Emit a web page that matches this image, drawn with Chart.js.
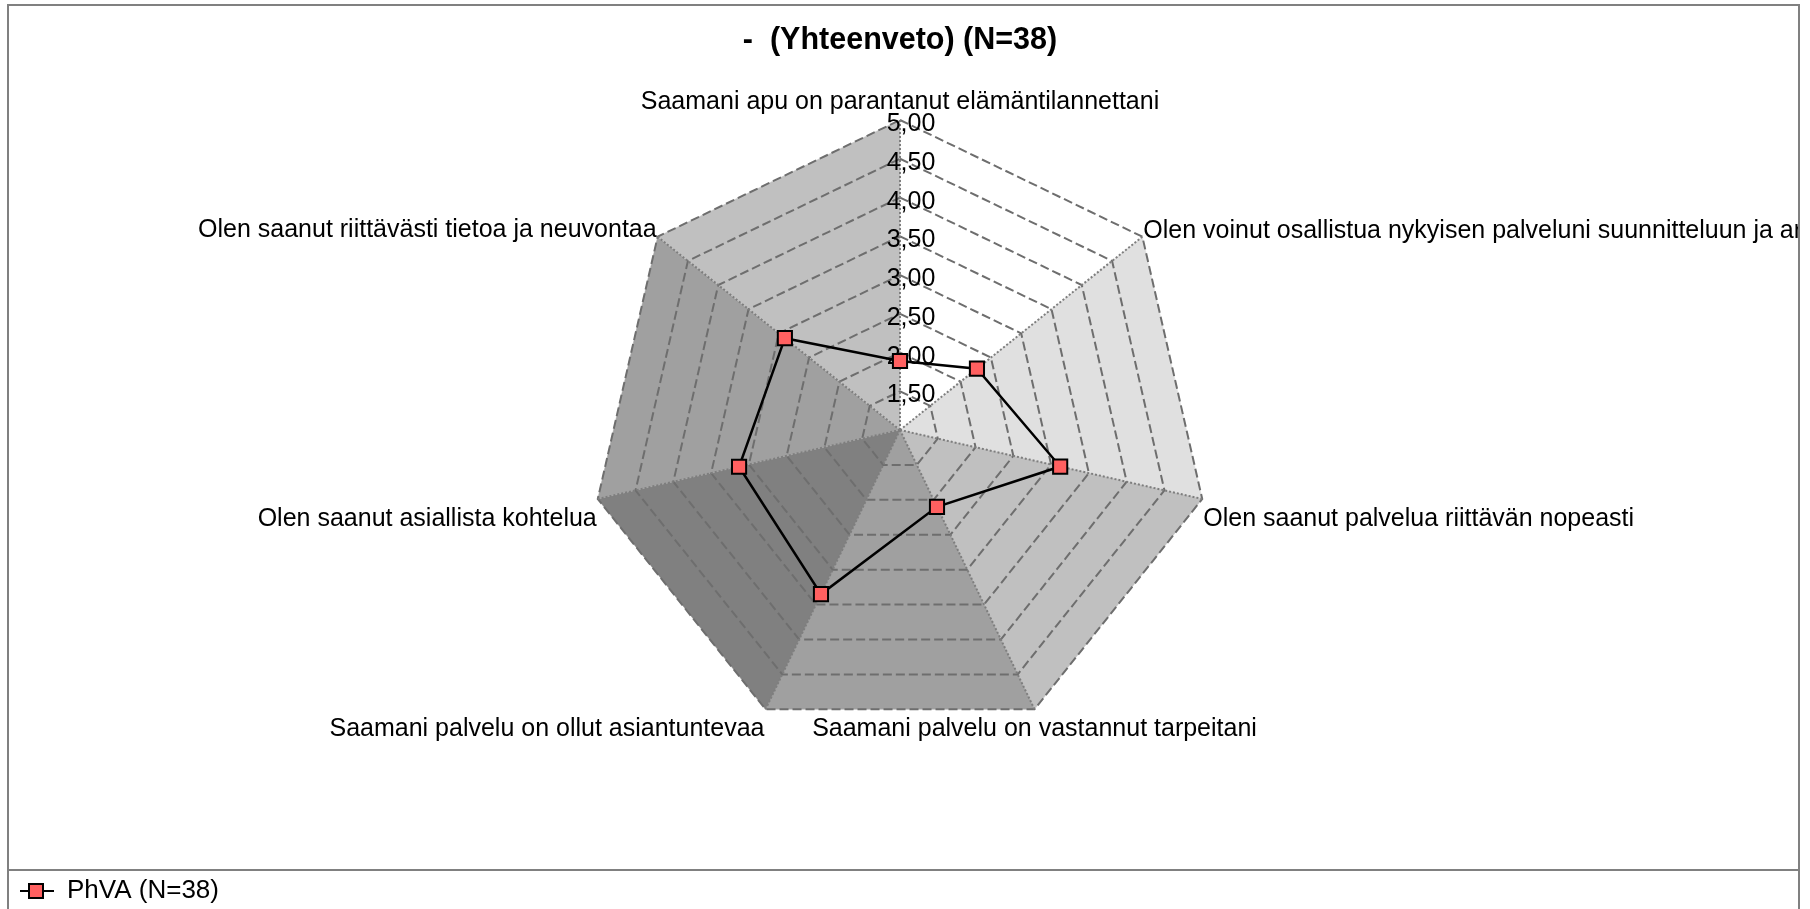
<!DOCTYPE html>
<html>
<head>
<meta charset="utf-8">
<script src="https://cdn.jsdelivr.net/npm/chart.js@4/dist/chart.umd.min.js"></script>
<style>
  html, body { margin: 0; padding: 0; overflow: hidden; background: #fff; }
  #frame { position: absolute; left: 7px; top: 4px; width: 1793px; height: 1000px;
           border: 2px solid #808080; box-sizing: border-box; overflow: hidden; }
  #chart { position: absolute; left: -9px; top: -6px; }
  #legendRule { position: absolute; left: 0; right: 0; top: 863px; height: 2px; background: #808080; }
</style>
</head>
<body>
<div id="frame">
  <canvas id="chart" width="1810" height="909"></canvas>
  <div id="legendRule"></div>
</div>
<script>
const titleText = '-  (Yhteenveto) (N=38)';
const categories = [
    'Saamani apu on parantanut elämäntilannettani',
    'Olen voinut osallistua nykyisen palveluni suunnitteluun ja arviointiin',
    'Olen saanut palvelua riittävän nopeasti',
    'Saamani palvelu on vastannut tarpeitani',
    'Saamani palvelu on ollut asiantuntevaa',
    'Olen saanut asiallista kohtelua',
    'Olen saanut riittävästi tietoa ja neuvontaa'
];
const seriesName = 'PhVA (N=38)';
const seriesValues = [1.89, 2.27, 3.12, 2.10, 3.35, 3.13, 2.90];
const scaleMin = 1;
const scaleMax = 5;
const scaleStep = 0.5;

const fontFamily = '"Liberation Sans", Arial, sans-serif';
const pointFill = '#ff6060';
// grey wedges between neighbouring spokes (3D-look background)
const sectorShades = ['#ffffff', '#e0e0e0', '#c0c0c0', '#a0a0a0', '#808080', '#a0a0a0', '#c0c0c0'];

function fmt(v) {
    return v.toFixed(2).replace('.', ',');
}

function legendSwatch() {
    const c = document.createElement('canvas');
    c.width = 36;
    c.height = 18;
    const g = c.getContext('2d');
    g.strokeStyle = '#000';
    g.lineWidth = 2;
    g.beginPath();
    g.moveTo(2, 9);
    g.lineTo(36, 9);
    g.stroke();
    g.fillStyle = pointFill;
    g.fillRect(11, 2, 14, 14);
    g.strokeRect(11, 2, 14, 14);
    return c;
}

const sectorShading = {
    id: 'sectorShading',
    beforeDraw(chart) {
        const r = chart.scales.r;
        const ctx = chart.ctx;
        const n = chart.data.labels.length;
        ctx.save();
        for (let i = 0; i < n; i++) {
            const a = r.getPointPositionForValue(i, r.max);
            const b = r.getPointPositionForValue((i + 1) % n, r.max);
            ctx.beginPath();
            ctx.moveTo(r.xCenter, r.yCenter);
            ctx.lineTo(a.x, a.y);
            ctx.lineTo(b.x, b.y);
            ctx.closePath();
            ctx.fillStyle = sectorShades[i];
            ctx.strokeStyle = sectorShades[i];
            ctx.lineWidth = 0.5;
            ctx.fill();
            ctx.stroke();
        }
        ctx.restore();
    }
};

const axisText = {
    id: 'axisText',
    beforeDatasetsDraw(chart) {
        const r = chart.scales.r;
        const ctx = chart.ctx;
        ctx.save();
        ctx.fillStyle = '#000';
        ctx.font = '25px ' + fontFamily;

        // value labels along the first spoke
        ctx.textAlign = 'center';
        ctx.textBaseline = 'alphabetic';
        r.ticks.forEach((t, k) => {
            if (k === 0) return;
            const p = r.getPointPositionForValue(0, t.value);
            ctx.fillText(fmt(t.value), p.x + 11, p.y + 11);
        });

        // category labels at the spoke ends
        chart.data.labels.forEach((label, i) => {
            const p = r.getPointPositionForValue(i, r.max);
            const ang = r.getIndexAngle(i);
            const s = Math.sin(ang), c = Math.cos(ang);
            let align, dx = 0, dy;
            if (c > 0.95) { align = 'center'; dy = -11; }
            else if (s > 0 && c < -0.85) { align = 'center'; dy = 27; }
            else if (s > 0) { align = 'left'; dx = 1; dy = c > 0 ? 1 : 27; }
            else { align = 'right'; dx = -1; dy = c > 0 ? 0 : 27; }
            ctx.textAlign = align;
            ctx.fillText(label, p.x + dx, p.y + dy);
        });
        ctx.restore();
    }
};

const swatch = legendSwatch();

new Chart(document.getElementById('chart'), {
    type: 'radar',
    data: {
        labels: categories,
        datasets: [{
            label: seriesName,
            data: seriesValues,
            borderColor: '#000',
            borderWidth: 2.5,
            backgroundColor: 'transparent',
            fill: false,
            pointStyle: 'rect',
            pointRadius: 10,
            pointHoverRadius: 10,
            pointBackgroundColor: pointFill,
            pointBorderColor: '#000',
            pointBorderWidth: 2
        }]
    },
    options: {
        responsive: false,
        animation: false,
        layout: { padding: { left: 0, right: 10, top: 0, bottom: -5 } },
        scales: {
            r: {
                min: scaleMin,
                max: scaleMax,
                beginAtZero: false,
                ticks: { stepSize: scaleStep, display: false },
                pointLabels: { display: false },
                grid: { color: '#6e6e6e', lineWidth: 2 },
                border: { dash: [9, 4] },
                angleLines: { color: '#7e7e7e', lineWidth: 2, borderDash: [2, 2] }
            }
        },
        plugins: {
            title: {
                display: true,
                text: titleText,
                color: '#000',
                font: { family: fontFamily, size: 30.5, weight: 'bold' },
                padding: { top: 22, bottom: 61.4 }
            },
            legend: {
                position: 'bottom',
                align: 'start',
                title: { display: true, text: ' ', font: { size: 10 }, padding: { top: 108, bottom: 0 } },
                labels: {
                    color: '#000',
                    font: { family: fontFamily, size: 26 },
                    usePointStyle: true,
                    pointStyleWidth: 36,
                    padding: 18,
                    generateLabels(chart) {
                        const items = Chart.defaults.plugins.legend.labels.generateLabels(chart);
                        items.forEach(it => { it.pointStyle = swatch; });
                        return items;
                    }
                }
            },
            tooltip: { enabled: false }
        }
    },
    plugins: [sectorShading, axisText]
});
</script>
</body>
</html>
